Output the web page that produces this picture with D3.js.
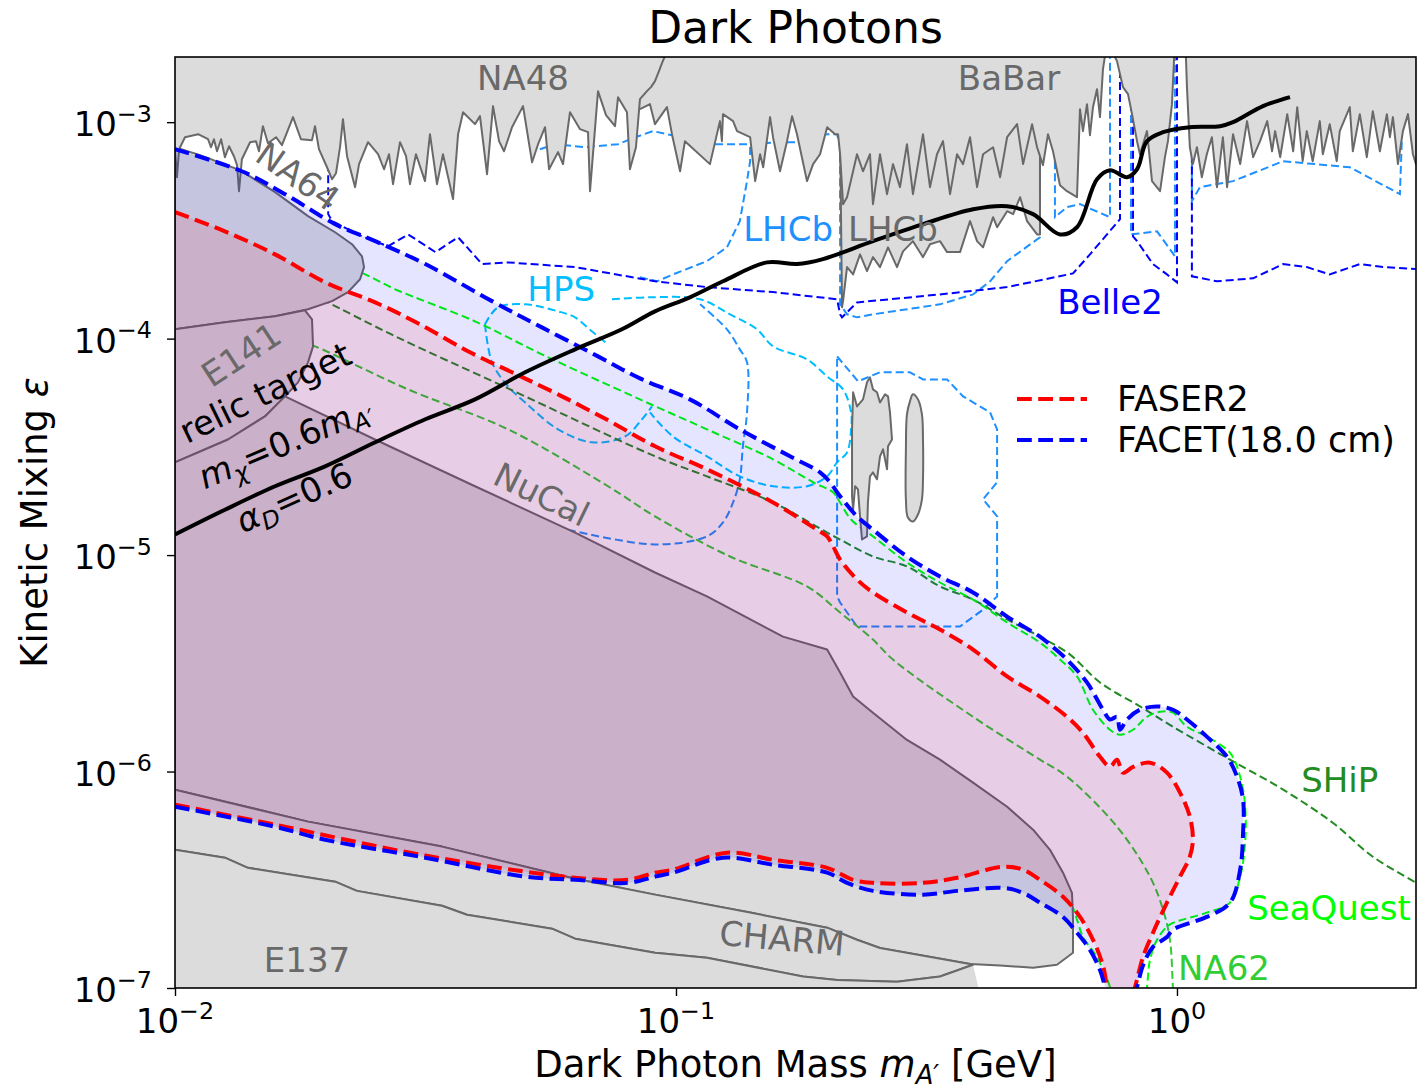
<!DOCTYPE html>
<html>
<head>
<meta charset="utf-8">
<script src="https://cdn.jsdelivr.net/npm/d3@7"></script>
<style>
  body { margin: 0; background: #fff; }
  svg { display: block; font-family: "DejaVu Sans", "Liberation Sans", sans-serif; }
</style>
</head>
<body>
<svg id="chart" width="1417" height="1090"></svg>
<script>
// ---------------------------------------------------------------
// Dark photon parameter space: mass m_A' [GeV] vs kinetic mixing eps
// Every array below holds [mass, epsilon] pairs.
// ---------------------------------------------------------------

// Existing constraints (grey)
const na48Edge = [[0.0100,7.5e-4],[0.01009,5.57e-4],[0.01019,7.5e-4],[0.01047,8.52e-4],[0.01112,8.80e-4],[0.01164,8.34e-4],[0.01180,7.66e-4],[0.01196,8.34e-4],[0.01213,7.34e-4],[0.01236,8.34e-4],[0.01258,6.89e-4],[0.01282,7.74e-4],[0.01311,6.96e-4],[0.01330,6.33e-4],[0.01342,4.80e-4],[0.01360,6.74e-4],[0.01412,8.08e-4],[0.01451,8.17e-4],[0.01471,7.34e-4],[0.01498,9.58e-4],[0.01533,7.99e-4],[0.01591,8.52e-4],[0.01635,7.83e-4],[0.01720,1.055e-3],[0.01784,8.34e-4],[0.01877,8.26e-4],[0.01903,9.58e-4],[0.01938,7.50e-4],[0.02011,6.19e-4],[0.02058,5.45e-4],[0.02096,5.81e-4],[0.02135,7.66e-4],[0.02164,1.032e-3],[0.02205,6.96e-4],[0.02288,5.01e-4],[0.02330,6.40e-4],[0.02428,8.08e-4],[0.02543,7.11e-4],[0.02614,6.06e-4],[0.02674,7.11e-4],[0.02724,5.17e-4],[0.02813,8.08e-4],[0.02892,6.96e-4],[0.02945,5.17e-4],[0.03027,7.11e-4],[0.03155,5.34e-4],[0.03228,8.80e-4],[0.03334,5.17e-4],[0.03427,7.11e-4],[0.03589,4.41e-4],[0.03673,8.80e-4],[0.03758,1.112e-3],[0.03970,9.79e-4],[0.04062,1.066e-3],[0.04196,5.75e-4],[0.04313,1.186e-3],[0.04434,8.17e-4],[0.04537,7.34e-4],[0.04707,9.48e-4],[0.04951,1.186e-3],[0.05161,6.53e-4],[0.05305,7.91e-4],[0.05478,9.48e-4],[0.05580,6.06e-4],[0.05815,7.27e-4],[0.05950,6.40e-4],[0.06144,1.112e-3],[0.06434,9.28e-4],[0.06675,8.99e-4],[0.06736,4.80e-4],[0.06988,1.391e-3],[0.07250,1.077e-3],[0.07556,9.58e-4],[0.07662,1.305e-3],[0.07982,1.112e-3],[0.08093,6.06e-4],[0.08320,7.66e-4],[0.08474,1.277e-3],[0.08750,1.391e-3],[0.08913,1.452e-3],[0.09080,1.547e-3],[0.09248,1.721e-3],[0.09377,1.874e-3],[0.09506,2.02e-3],[0.09638,2.29e-3]];

const babarEdge = [[0.08474,1.148e-3],[0.08873,1.211e-3],[0.0908,9.79e-4],[0.09594,1.173e-3],[0.09817,8.80e-4],[0.1019,5.93e-4],[0.1042,8.17e-4],[0.1169,6.40e-4],[0.1224,1.011e-3],[0.1235,8.17e-4],[0.1241,1.089e-3],[0.1300,1.011e-3],[0.1324,9.09e-4],[0.1406,8.52e-4],[0.1439,5.34e-4],[0.1472,7.11e-4],[0.1493,6.19e-4],[0.1541,1.055e-3],[0.1562,8.52e-4],[0.1613,5.93e-4],[0.1666,8.17e-4],[0.1705,1.066e-3],[0.1744,8.80e-4],[0.1826,5.34e-4],[0.1878,6.40e-4],[0.1939,7.11e-4],[0.2003,9.48e-4],[0.2078,8.80e-4],[0.2106,8.80e-4],[0.2126,7.11e-4],[0.2155,4.18e-4],[0.2195,4.50e-4],[0.2298,7.11e-4],[0.2362,5.93e-4],[0.2439,7.11e-4],[0.2473,4.18e-4],[0.2554,7.11e-4],[0.2638,4.65e-4],[0.2711,6.40e-4],[0.2800,5.01e-4],[0.2891,7.91e-4],[0.2972,4.65e-4],[0.3112,8.80e-4],[0.3214,5.01e-4],[0.3319,7.11e-4],[0.3412,8.17e-4],[0.3524,4.65e-4],[0.3639,7.11e-4],[0.3741,6.40e-4],[0.3863,8.52e-4],[0.3990,5.01e-4],[0.4101,7.11e-4],[0.4295,7.66e-4],[0.4436,5.57e-4],[0.4581,8.52e-4],[0.4796,9.79e-4],[0.4930,6.40e-4],[0.5138,9.79e-4],[0.5257,7.66e-4],[0.5402,6.33e-4],[0.5528,8.80e-4],[0.5656,7.34e-4],[0.5841,5.11e-4],[0.6032,4.80e-4],[0.6316,4.50e-4],[0.6403,1.148e-3],[0.6492,9.09e-4],[0.6613,1.211e-3],[0.6704,8.71e-4],[0.6798,1.173e-3],[0.6924,1.42e-3],[0.7020,1.055e-3],[0.7117,1.758e-3],[0.7217,2.175e-3],[0.7250,3e-3],[0.7487,3e-3],[0.7521,2.00e-3],[0.7591,1.914e-3],[0.7803,1.452e-3],[0.7985,1.347e-3],[0.8134,1.089e-3],[0.8323,8.17e-4],[0.8437,7.11e-4],[0.8713,9.09e-4],[0.8916,5.34e-4],[0.9251,4.80e-4],[0.9462,6.89e-4],[0.9594,8.17e-4],[0.9772,1.211e-3],[0.9863,1.914e-3],[0.9954,3e-3],[1.037,3e-3],[1.042,2.00e-3],[1.047,1.452e-3],[1.061,7.66e-4],[1.076,6.40e-4],[1.096,7.66e-4],[1.121,5.57e-4],[1.147,7.11e-4],[1.174,8.52e-4],[1.202,5.01e-4],[1.219,6.60e-4],[1.235,8.52e-4],[1.259,5.01e-4],[1.294,8.80e-4],[1.337,6.40e-4],[1.380,1.011e-3],[1.419,6.89e-4],[1.465,8.17e-4],[1.514,1.011e-3],[1.548,7.34e-4],[1.570,9.09e-4],[1.607,6.89e-4],[1.660,1.089e-3],[1.706,7.34e-4],[1.738,1.173e-3],[1.782,6.60e-4],[1.816,9.09e-4],[1.866,6.60e-4],[1.928,1.011e-3],[1.955,7.11e-4],[2.018,9.79e-4],[2.084,6.60e-4],[2.113,9.09e-4],[2.213,1.173e-3],[2.244,7.34e-4],[2.317,1.089e-3],[2.393,6.89e-4],[2.460,1.124e-3],[2.541,7.34e-4],[2.624,1.089e-3],[2.661,8.52e-4],[2.698,1.055e-3],[2.761,6.40e-4],[2.825,9.09e-4],[2.891,1.089e-3],[2.958,7.11e-4],[3.00,6.40e-4],[3.055,8.34e-4]];

const lhcbExcl = [[0.2126,3e-3],[0.2126,8.8e-4],[0.2145,1.395e-4],[0.2155,1.49e-4],[0.2195,2.14e-4],[0.2257,1.98e-4],[0.2330,2.45e-4],[0.2406,2.05e-4],[0.2473,2.38e-4],[0.2554,2.14e-4],[0.2650,2.64e-4],[0.2762,2.14e-4],[0.2839,2.53e-4],[0.2972,2.82e-4],[0.3112,2.38e-4],[0.3214,2.73e-4],[0.3365,2.82e-4],[0.3476,2.51e-4],[0.3690,2.51e-4],[0.3863,3.49e-4],[0.3990,2.82e-4],[0.4101,2.64e-4],[0.4295,3.64e-4],[0.4375,3.27e-4],[0.4581,3.88e-4],[0.4709,3.76e-4],[0.4863,4.50e-4],[0.5021,3.49e-4],[0.5257,3.03e-4],[0.5328,3.03e-4],[0.5328,3e-3]];

const na64Region = [[0.0100,7.66e-4],[0.01122,7.04e-4],[0.01348,6.00e-4],[0.01584,4.75e-4],[0.01843,3.68e-4],[0.02087,3.10e-4],[0.02256,2.73e-4],[0.02362,2.40e-4],[0.02384,2.14e-4],[0.02341,1.88e-4],[0.02215,1.64e-4],[0.02058,1.49e-4],[0.01843,1.366e-4],[0.01584,1.268e-4],[0.01258,1.19e-4],[0.0100,1.104e-4]];

const e141Region = [[0.0100,1.104e-4],[0.01258,1.19e-4],[0.01584,1.268e-4],[0.01817,1.351e-4],[0.01877,1.228e-4],[0.01886,9.21e-5],[0.01843,7.77e-5],[0.01760,6.28e-5],[0.01658,5.41e-5],[0.01512,4.37e-5],[0.01276,3.42e-5],[0.0100,2.68e-5]];

const nucalRegion = [[0.0100,2.68e-5],[0.01276,3.42e-5],[0.01512,4.37e-5],[0.01658,5.41e-5],[0.02507,3.42e-5],[0.03970,2.08e-5],[0.06288,1.27e-5],[0.0908,8.31e-6],[0.1153,6.44e-6],[0.1635,4.20e-6],[0.2003,3.66e-6],[0.2126,2.87e-6],[0.2257,2.22e-6],[0.2473,1.87e-6],[0.2891,1.40e-6],[0.3365,1.135e-6],[0.3917,8.89e-7],[0.4581,6.88e-7],[0.5162,5.39e-7],[0.5579,4.35e-7],[0.5923,3.41e-7],[0.6172,2.75e-7],[0.6201,2.13e-7],[0.6201,1.455e-7],[0.5761,1.28e-7],[0.5162,1.24e-7],[0.4436,1.27e-7],[0.3863,1.29e-7],[0.2554,1.53e-7],[0.2298,1.67e-7],[0.2003,1.90e-7],[0.1406,2.23e-7],[0.0908,2.70e-7],[0.06288,3.20e-7],[0.03411,4.50e-7],[0.01843,5.87e-7],[0.0100,8.25e-7]];

const charmRegion = [[0.0100,8.25e-7],[0.01843,5.87e-7],[0.03411,4.50e-7],[0.06288,3.20e-7],[0.0908,2.70e-7],[0.1406,2.23e-7],[0.2003,1.90e-7],[0.2298,1.67e-7],[0.2554,1.53e-7],[0.3863,1.29e-7],[0.3917,1.28e-7],[0.3365,1.13e-7],[0.2762,1.07e-7],[0.2097,1.09e-7],[0.1793,1.13e-7],[0.1153,1.38e-7],[0.0908,1.455e-7],[0.06288,1.69e-7],[0.05656,1.88e-7],[0.03826,2.18e-7],[0.03411,2.40e-7],[0.02307,2.81e-7],[0.02088,3.10e-7],[0.01398,3.59e-7],[0.01258,4.00e-7],[0.0100,4.35e-7]];

const e137Edge = [[0.0100,4.35e-7],[0.01258,4.00e-7],[0.01398,3.59e-7],[0.02088,3.10e-7],[0.02307,2.81e-7],[0.03411,2.40e-7],[0.03826,2.18e-7],[0.05656,1.88e-7],[0.06288,1.69e-7],[0.0908,1.455e-7],[0.1153,1.38e-7],[0.1793,1.13e-7],[0.2097,1.09e-7],[0.2762,1.07e-7],[0.3365,1.13e-7],[0.3917,1.28e-7]];

const lhcbIslandA = [[0.2257,5.65e-5],[0.2298,4.86e-5],[0.2362,5.24e-5],[0.2406,6.28e-5],[0.2439,6.62e-5],[0.2473,5.83e-5],[0.2519,5.65e-5],[0.2554,5.07e-5],[0.2614,5.53e-5],[0.2650,5.41e-5],[0.2674,4.56e-5],[0.2699,3.42e-5],[0.2650,3.18e-5],[0.2638,2.49e-5],[0.2590,3.08e-5],[0.2554,2.86e-5],[0.2519,2.24e-5],[0.2473,2.41e-5],[0.2439,2.31e-5],[0.2416,1.75e-5],[0.2406,1.22e-5],[0.2351,1.18e-5],[0.2330,1.51e-5],[0.2308,2.01e-5],[0.2278,2.08e-5],[0.2257,1.62e-5],[0.2246,1.87e-5],[0.2246,3.81e-5]];
const lhcbIslandB = [[0.2972,5.53e-5],[0.3041,5.24e-5],[0.3097,4.47e-5],[0.3112,3.42e-5],[0.3112,2.24e-5],[0.3097,1.81e-5],[0.3041,1.54e-5],[0.2972,1.43e-5],[0.2904,1.49e-5],[0.2877,1.81e-5],[0.2877,3.08e-5],[0.2891,4.47e-5],[0.2931,5.13e-5]];

// Projected reaches of other experiments (thin dashed)
const hpsLower = [[0.04157,1.165e-4],[0.04293,7.77e-5],[0.04621,6.02e-5],[0.0500,5.07e-5],[0.05815,3.81e-5],[0.06792,3.32e-5],[0.07910,3.53e-5],[0.08553,4.24e-5],[0.08955,4.86e-5]];
const hpsUpper = [[0.04157,1.165e-4],[0.04413,1.395e-4],[0.0500,1.44e-4],[0.05815,1.337e-4],[0.06288,1.254e-4],[0.06792,1.081e-4],[0.07316,9.41e-5]];
const hpsOuter = [[0.07451,1.52e-4],[0.08873,1.552e-4],[0.1117,1.52e-4],[0.1282,1.295e-4],[0.1451,1.104e-4],[0.1562,9.21e-5],[0.1826,8.02e-5],[0.2003,6.69e-5],[0.2155,5.83e-5],[0.2236,4.56e-5],[0.2236,3.81e-5],[0.2195,2.98e-5],[0.2097,2.68e-5],[0.2003,2.31e-5],[0.1826,2.08e-5],[0.1562,2.08e-5],[0.1341,2.31e-5],[0.1153,2.86e-5],[0.09863,3.53e-5],[0.08873,4.56e-5]];

const lhcbLow = [[0.06085,1.31e-5],[0.0908,1.12e-5],[0.1153,1.22e-5],[0.1241,1.415e-5],[0.1300,1.75e-5],[0.1341,2.24e-5],[0.1360,3.18e-5],[0.1386,4.56e-5],[0.1386,7.77e-5],[0.1341,8.92e-5],[0.1264,1.104e-4],[0.1117,1.44e-4]];
const lhcbPromptA = [[0.08474,1.92e-4],[0.09165,1.84e-4],[0.09863,1.98e-4],[0.1153,2.28e-4],[0.1264,2.64e-4],[0.1341,3.49e-4],[0.1386,5.34e-4],[0.1406,6.60e-4],[0.1406,7.91e-4]];
const lhcbPromptB = [[0.05351,7.50e-4],[0.0574,7.91e-4],[0.0658,7.66e-4],[0.07662,7.91e-4],[0.0829,8.52e-4],[0.0900,9.09e-4],[0.09594,8.80e-4],[0.1186,7.91e-4],[0.1406,7.91e-4],[0.1613,8.08e-4],[0.1826,8.08e-4],[0.2003,8.80e-4],[0.2097,8.80e-4],[0.2126,7.66e-4],[0.2126,1.44e-4],[0.2195,1.295e-4],[0.2298,1.254e-4],[0.2473,1.295e-4],[0.3365,1.44e-4],[0.3917,1.60e-4],[0.4236,1.84e-4],[0.4581,2.28e-4],[0.5328,2.94e-4],[0.5328,7.50e-4]];
const lhcbPromptC = [[0.5707,7.50e-4],[0.5707,3.64e-4],[0.6032,4.05e-4],[0.6403,4.18e-4],[0.7351,3.64e-4],[0.7351,3e-3]];
const lhcbPromptD = [[0.8095,3e-3],[0.8095,3.03e-4],[0.9124,3.13e-4],[0.9908,2.40e-4],[0.9908,3e-3]];
const lhcbPromptE = [[1.071,7.50e-4],[1.071,4.31e-4],[1.111,5.01e-4],[1.294,5.34e-4],[1.629,6.60e-4],[2.213,6.19e-4],[2.786,4.65e-4],[2.812,8.52e-4],[2.812,1.277e-3]];
const lhcbDisplaced = [[0.2097,8.28e-5],[0.2309,6.35e-5],[0.2554,6.99e-5],[0.2931,6.99e-5],[0.3112,6.48e-5],[0.3476,6.48e-5],[0.3741,5.41e-5],[0.4236,4.56e-5],[0.4375,3.81e-5],[0.4375,2.17e-5],[0.4101,1.81e-5],[0.4375,1.51e-5],[0.4375,6.44e-6],[0.4101,5.60e-6],[0.3690,4.68e-6],[0.2891,4.68e-6],[0.2298,4.68e-6],[0.2126,6.04e-6],[0.2097,6.44e-6],[0.2097,8.28e-5]];

const belle2Curve = [[0.02022,8.34e-4],[0.02022,3.76e-4],[0.02058,3.49e-4],[0.02362,2.97e-4],[0.02661,2.67e-4],[0.02920,3.03e-4],[0.03310,2.51e-4],[0.03673,2.94e-4],[0.04101,2.21e-4],[0.04621,2.25e-4],[0.06288,2.14e-4],[0.0908,1.84e-4],[0.1153,1.73e-4],[0.1562,1.64e-4],[0.2097,1.52e-4],[0.2126,1.295e-4],[0.2145,1.254e-4],[0.2298,1.47e-4],[0.3365,1.60e-4],[0.4581,1.73e-4],[0.6201,2.00e-4],[0.6704,2.45e-4],[0.7250,3.03e-4],[0.7696,3.56e-4],[0.7696,3e-3],[0.8171,3e-3],[0.8171,2.97e-4],[0.8323,2.82e-4],[0.8957,2.21e-4],[0.9550,1.98e-4],[1.0,1.82e-4],[1.0,3e-3],[1.071,3e-3],[1.071,1.94e-4],[1.202,1.84e-4],[1.419,1.90e-4],[1.629,2.21e-4],[1.816,2.14e-4],[2.018,1.98e-4],[2.317,2.21e-4],[2.577,2.14e-4],[3.055,2.09e-4]];

const shipCurve = [[0.01777,1.69e-4],[0.01994,1.49e-4],[0.02752,1.025e-4],[0.04621,5.89e-5],[0.0908,2.86e-5],[0.1153,2.31e-5],[0.1562,1.75e-5],[0.2003,1.27e-5],[0.2126,1.18e-5],[0.2473,9.85e-6],[0.2891,8.86e-6],[0.3365,7.16e-6],[0.3917,6.23e-6],[0.4581,5.04e-6],[0.5328,4.20e-6],[0.6116,3.47e-6],[0.7020,2.58e-6],[0.8437,2.00e-6],[0.9817,1.61e-6],[1.276,1.135e-6],[1.629,8.25e-7],[2.046,5.80e-7],[2.460,4.04e-7],[3.055,3.00e-7]];

const seaquestCurve = [[0.02135,2.21e-4],[0.02397,1.98e-4],[0.02752,1.69e-4],[0.0397,1.202e-4],[0.05398,8.46e-5],[0.08474,5.24e-5],[0.1153,3.81e-5],[0.1562,2.77e-5],[0.1878,2.17e-5],[0.2058,1.95e-5],[0.2126,1.75e-5],[0.2236,1.46e-5],[0.2473,1.22e-5],[0.2891,9.24e-6],[0.3365,7.47e-6],[0.3917,6.23e-6],[0.4581,4.88e-6],[0.5328,3.94e-6],[0.5841,3.29e-6],[0.6316,2.75e-6],[0.6798,1.93e-6],[0.7351,1.56e-6],[0.7696,1.48e-6],[0.8171,1.56e-6],[0.8713,1.79e-6],[0.9251,1.89e-6],[0.9817,1.87e-6],[1.047,1.61e-6],[1.147,1.45e-6],[1.276,1.22e-6],[1.337,9.47e-7],[1.368,6.88e-7],[1.368,4.69e-7],[1.337,3.27e-7],[1.276,2.48e-7],[1.147,2.23e-7],[0.9817,2.00e-7],[0.9550,1.92e-7],[0.9124,1.67e-7],[0.8834,1.35e-7],[0.8713,1.01e-7],[0.8627,8.8e-8]];
const seaquestLower = [[0.4436,2.70e-7],[0.5841,2.56e-7],[0.6172,2.37e-7],[0.6316,2.07e-7],[0.6492,1.72e-7],[0.6924,1.39e-7],[0.7351,1.01e-7],[0.7419,8.8e-8]];

const na62Curve = [[0.01777,9.72e-5],[0.01904,9.21e-5],[0.02918,5.83e-5],[0.04621,3.81e-5],[0.07316,2.08e-5],[0.0908,1.51e-5],[0.1282,9.85e-6],[0.1826,7.16e-6],[0.2126,5.43e-6],[0.2473,4.07e-6],[0.2711,3.29e-6],[0.3917,1.79e-6],[0.5328,1.135e-6],[0.6032,9.47e-7],[0.7591,5.56e-7],[0.8834,3.27e-7],[0.9380,2.30e-7],[0.9683,1.67e-7],[0.9817,1.0e-7],[0.9863,8.8e-8]];

// FACET (18 cm) and FASER2 sensitivity contours
const facetUpper = [[0.0100,7.50e-4],[0.01360,5.93e-4],[0.01658,4.65e-4],[0.02088,3.38e-4],[0.02510,2.82e-4],[0.0316,2.21e-4],[0.04293,1.49e-4],[0.05400,1.127e-4],[0.06988,8.28e-5],[0.08474,6.55e-5],[0.1066,5.24e-5],[0.1341,3.81e-5],[0.1689,2.86e-5],[0.1939,2.41e-5],[0.2030,2.17e-5],[0.2126,1.87e-5],[0.2298,1.51e-5],[0.2473,1.31e-5],[0.2891,9.85e-6],[0.3365,7.96e-6],[0.3917,6.72e-6],[0.4581,5.20e-6],[0.5328,4.20e-6],[0.5579,3.86e-6],[0.6032,3.29e-6],[0.6613,2.58e-6],[0.7117,1.93e-6],[0.7351,1.74e-6],[0.7591,1.79e-6],[0.7696,1.56e-6],[0.7948,1.74e-6],[0.8437,1.93e-6],[0.9124,2.00e-6],[0.9817,1.93e-6],[1.047,1.74e-6],[1.147,1.45e-6],[1.259,1.17e-6],[1.318,9.47e-7],[1.355,7.42e-7],[1.355,5.22e-7],[1.337,3.52e-7],[1.276,2.48e-7],[1.147,2.13e-7],[0.9817,1.86e-7],[0.9550,1.72e-7],[0.8957,1.55e-7],[0.8554,1.27e-7],[0.8323,1.01e-7],[0.8171,8.8e-8]];
const facetLower = [[0.0100,6.88e-7],[0.01584,5.56e-7],[0.01994,4.84e-7],[0.0316,4.00e-7],[0.0500,3.27e-7],[0.06288,3.16e-7],[0.08015,3.06e-7],[0.0908,3.27e-7],[0.09863,3.41e-7],[0.1241,4.00e-7],[0.1562,3.71e-7],[0.2003,3.41e-7],[0.2195,3.06e-7],[0.2473,2.81e-7],[0.3112,2.70e-7],[0.3639,2.81e-7],[0.4498,2.90e-7],[0.4930,2.75e-7],[0.5328,2.48e-7],[0.5923,2.13e-7],[0.6316,1.80e-7],[0.6704,1.50e-7],[0.7020,1.21e-7],[0.7183,1.01e-7],[0.7284,8.8e-8]];
const faserUpper = [[0.0100,3.84e-4],[0.01258,3.13e-4],[0.01584,2.45e-4],[0.01994,1.82e-4],[0.0251,1.47e-4],[0.03083,1.165e-4],[0.03844,8.74e-5],[0.04707,6.99e-5],[0.05868,5.47e-5],[0.07384,4.15e-5],[0.0908,3.18e-5],[0.1153,2.49e-5],[0.1562,1.75e-5],[0.1912,1.31e-5],[0.2003,1.22e-5],[0.2058,1.10e-5],[0.2126,9.54e-6],[0.2298,7.71e-6],[0.2473,6.72e-6],[0.2891,5.43e-6],[0.3365,4.53e-6],[0.3917,3.66e-6],[0.4581,2.75e-6],[0.5328,2.22e-6],[0.6032,1.79e-6],[0.6492,1.51e-6],[0.7020,1.17e-6],[0.7351,1.054e-6],[0.7591,1.135e-6],[0.7803,9.88e-7],[0.8171,1.05e-6],[0.8834,1.099e-6],[0.9550,9.88e-7],[1.014,7.99e-7],[1.061,6.19e-7],[1.076,4.84e-7],[1.061,4.04e-7],[1.014,3.27e-7],[0.9550,2.48e-7],[0.8957,1.80e-7],[0.8554,1.39e-7],[0.8247,1.01e-7],[0.8097,8.8e-8]];
const faserLower = [[0.0100,7.03e-7],[0.01584,5.68e-7],[0.0316,4.09e-7],[0.06288,3.23e-7],[0.08015,3.16e-7],[0.0908,3.41e-7],[0.09863,3.52e-7],[0.1264,4.22e-7],[0.1562,3.91e-7],[0.2003,3.59e-7],[0.2257,3.16e-7],[0.2473,3.06e-7],[0.3112,3.06e-7],[0.3639,3.23e-7],[0.4498,3.63e-7],[0.4930,3.52e-7],[0.5328,3.16e-7],[0.5923,2.64e-7],[0.6403,2.13e-7],[0.6798,1.67e-7],[0.7117,1.27e-7],[0.7250,1.01e-7],[0.7351,8.8e-8]];

// Thermal relic target for m_chi = 0.6 m_A', alpha_D = 0.6
const relicTarget = [[0.0100,1.245e-5],[0.01258,1.62e-5],[0.01584,2.08e-5],[0.01994,2.57e-5],[0.0251,3.32e-5],[0.0316,4.24e-5],[0.0397,5.24e-5],[0.0500,6.99e-5],[0.06288,8.92e-5],[0.0780,1.104e-4],[0.0908,1.337e-4],[0.1066,1.552e-4],[0.1241,1.84e-4],[0.1519,2.25e-4],[0.1744,2.21e-4],[0.1965,2.33e-4],[0.2473,2.82e-4],[0.3112,3.38e-4],[0.3917,3.96e-4],[0.4581,4.09e-4],[0.5162,3.76e-4],[0.5841,3.03e-4],[0.6316,3.27e-4],[0.6924,5.45e-4],[0.7351,6.00e-4],[0.7948,5.57e-4],[0.8323,6.06e-4],[0.8713,8.17e-4],[0.9380,8.99e-4],[1.061,9.48e-4],[1.219,9.58e-4],[1.294,1.0e-3],[1.485,1.186e-3],[1.681,1.305e-3]];

// Axis ticks
const xMajorTicks = [0.01, 0.1, 1];
const xTickExp = ["−2", "−1", "0"];
const yMajorTicks = [1e-7, 1e-6, 1e-5, 1e-4, 1e-3];
const yTickExp = ["−7", "−6", "−5", "−4", "−3"];

// Legend entries
const legendNames = ["FASER2", "FACET(18.0 cm)"];
const legendColors = ["red", "blue"];

// ---------------------------------------------------------------
const M = { left: 175, right: 1416, top: 57, bottom: 988 };
const CEIL = 1e-2, FLOOR = 5e-8;
const x = d3.scaleLog().domain([0.01, 3]).range([M.left, M.right]);
const y = d3.scaleLog().domain([1e-7, 2e-3]).range([M.bottom, M.top]);

const GREY_FILL = "#dcdcdc", GREY_EDGE = "#696969";
const svg = d3.select("#chart");
svg.append("defs").append("clipPath").attr("id", "plotArea")
  .append("rect").attr("x", M.left).attr("y", M.top)
  .attr("width", M.right - M.left).attr("height", M.bottom - M.top);
const plot = svg.append("g").attr("clip-path", "url(#plotArea)");

const straight = d3.line().x(d => x(d[0])).y(d => y(d[1]));
const smooth = d3.line().x(d => x(d[0])).y(d => y(d[1])).curve(d3.curveCatmullRom.alpha(0.5));
const smoothClosed = d3.line().x(d => x(d[0])).y(d => y(d[1])).curve(d3.curveCatmullRomClosed.alpha(0.5));

function thinDashed(data, color, gen = straight) {
  plot.append("path").attr("d", gen(data)).attr("fill", "none")
    .attr("stroke", color).attr("stroke-width", 2).attr("stroke-dasharray", "8,4");
}

// 1) other experiments' projected reaches (sit beneath the excluded regions)
thinDashed(hpsLower, "#00bfff", smooth);
thinDashed(hpsUpper, "#00bfff", smooth);
thinDashed(hpsOuter, "#00bfff", smooth);
thinDashed(lhcbLow, "#1e90ff", smooth);
thinDashed(lhcbPromptA, "#1e90ff");
thinDashed(lhcbPromptB, "#1e90ff");
thinDashed(lhcbPromptC, "#1e90ff");
thinDashed(lhcbPromptD, "#1e90ff");
thinDashed(lhcbPromptE, "#1e90ff");
thinDashed(lhcbDisplaced, "#1e90ff");
thinDashed(belle2Curve, "#0000ff");
thinDashed(na62Curve, "#32cd32", smooth);
thinDashed(shipCurve, "#228b22", smooth);
thinDashed(seaquestCurve, "#00ff00", smooth);
thinDashed(seaquestLower, "#00ff00", smooth);

// 2) excluded regions
function capAbove(edge) {
  return [...edge, [edge[edge.length - 1][0], CEIL], [edge[0][0], CEIL]];
}
function capBelow(edge) {
  return [...edge, [edge[edge.length - 1][0] * 1.1, FLOOR], [edge[0][0], FLOOR]];
}
function greyOpen(poly, edge) {
  plot.append("path").attr("d", straight(poly) + "Z").attr("fill", GREY_FILL).attr("stroke", "none");
  plot.append("path").attr("d", straight(edge)).attr("fill", "none")
    .attr("stroke", GREY_EDGE).attr("stroke-width", 2).attr("stroke-linejoin", "round");
}
function greyClosed(poly, gen = straight) {
  plot.append("path").attr("d", gen === straight ? gen(poly) + "Z" : gen(poly))
    .attr("fill", GREY_FILL).attr("stroke", GREY_EDGE).attr("stroke-width", 2)
    .attr("stroke-linejoin", "round");
}
greyOpen(lhcbExcl, lhcbExcl);
greyOpen(capAbove(babarEdge), babarEdge);
greyClosed(na64Region);
greyOpen(capAbove(na48Edge), na48Edge);
greyClosed(e141Region);
greyClosed(nucalRegion);
greyClosed(charmRegion);
greyOpen(capBelow(e137Edge), e137Edge);
greyClosed(lhcbIslandA);
greyClosed(lhcbIslandB, smoothClosed);

// 3) FACET and FASER2 sensitivity regions
const facetPoly = [...facetUpper, ...facetLower.slice().reverse()];
const faserPoly = [...faserUpper, ...faserLower.slice().reverse()];
plot.append("path").attr("d", smooth(facetPoly) + "Z").attr("fill", "blue").attr("fill-opacity", 0.1);
plot.append("path").attr("d", smooth(faserPoly) + "Z").attr("fill", "red").attr("fill-opacity", 0.1);

function thickDashed(data, color) {
  plot.append("path").attr("d", smooth(data)).attr("fill", "none")
    .attr("stroke", color).attr("stroke-width", 4).attr("stroke-dasharray", "14.8,6.4");
}
thickDashed(faserUpper, "red");
thickDashed(faserLower, "red");
thickDashed(facetUpper, "blue");
thickDashed(facetLower, "blue");

// 4) relic target line
plot.append("path").attr("d", smooth(relicTarget)).attr("fill", "none")
  .attr("stroke", "black").attr("stroke-width", 4).attr("stroke-linejoin", "round");

// ---------------------------------------------------------------
// Text helpers: mathtext-like runs with sub/superscripts
function rich(sel, parts, fs) {
  let shift = 0;
  parts.forEach(p => {
    const ts = sel.append("tspan").text(p.t);
    const target = p.sub ? fs * 0.2 : p.sup ? -fs * 0.42 : 0;
    if (target !== shift) ts.attr("dy", target - shift);
    shift = target;
    if (p.sub || p.sup) ts.attr("font-size", fs * 0.7);
    if (p.it) ts.attr("font-style", "italic");
  });
}

const annotations = [
  { parts: [{ t: "NA48" }], m: 0.0495, e: 1.406e-3, rot: 0, color: GREY_EDGE, base: true },
  { parts: [{ t: "BaBar" }], m: 0.4621, e: 1.406e-3, rot: 0, color: GREY_EDGE, base: true },
  { parts: [{ t: "LHCb" }], m: 0.1674, e: 2.82e-4, rot: 0, color: "#1e90ff", base: true },
  { parts: [{ t: "LHCb" }], m: 0.2711, e: 2.82e-4, rot: 0, color: GREY_EDGE, base: true },
  { parts: [{ t: "HPS" }], m: 0.0590, e: 1.49e-4, rot: 0, color: "#00bfff", base: true },
  { parts: [{ t: "Belle2" }], m: 0.7351, e: 1.295e-4, rot: 0, color: "#0000ff", base: true },
  { parts: [{ t: "SHiP" }], m: 2.113, e: 8.07e-7, rot: 0, color: "#228b22", base: true },
  { parts: [{ t: "SeaQuest" }], m: 2.011, e: 2.07e-7, rot: 0, color: "#00ff00", base: true },
  { parts: [{ t: "NA62" }], m: 1.241, e: 1.09e-7, rot: 0, color: "#32cd32", base: true },
  { parts: [{ t: "E137" }], m: 0.01834, e: 1.18e-7, rot: 0, color: GREY_EDGE, base: true },
  { parts: [{ t: "CHARM" }], m: 0.1628, e: 1.70e-7, rot: 5, color: GREY_EDGE },
  { parts: [{ t: "NuCal" }], m: 0.05398, e: 1.91e-5, rot: 26, color: GREY_EDGE },
  { parts: [{ t: "E141" }], m: 0.01354, e: 8.46e-5, rot: -33, color: GREY_EDGE },
  { parts: [{ t: "NA64" }], m: 0.01760, e: 5.63e-4, rot: 35, color: GREY_EDGE },
  { parts: [{ t: "relic target" }], m: 0.01513, e: 5.65e-5, rot: -26, color: "black" },
  { parts: [{ t: "m", it: true }, { t: "χ", it: true, sub: true }, { t: "=0.6" }, { t: "m", it: true }, { t: "A′", it: true, sub: true }],
    m: 0.01658, e: 3.32e-5, rot: -23, color: "black" },
  { parts: [{ t: "α", it: true }, { t: "D", it: true, sub: true }, { t: "=0.6" }], m: 0.01728, e: 1.85e-5, rot: -24, color: "black" }
];
const LABEL_FS = 34;
annotations.forEach(a => {
  const t = svg.append("text")
    .attr("transform", `translate(${x(a.m)},${y(a.e)}) rotate(${a.rot})`)
    .attr("text-anchor", "middle")
    .attr("font-size", LABEL_FS).attr("fill", a.color);
  if (!a.base) t.attr("dy", "0.36em");
  rich(t, a.parts, LABEL_FS);
});

// Legend
const LEG_GAP = 41, LEG_FS = 35;
const legend = svg.append("g").attr("transform", "translate(1017,399)");
legendNames.forEach((name, i) => {
  legend.append("line").attr("x1", 0).attr("x2", 70).attr("y1", i * LEG_GAP).attr("y2", i * LEG_GAP)
    .attr("stroke", legendColors[i]).attr("stroke-width", 4).attr("stroke-dasharray", "14.8,6.4");
  legend.append("text").attr("x", 100).attr("y", i * LEG_GAP + 12).attr("font-size", LEG_FS)
    .attr("fill", "black").text(name);
});

// ---------------------------------------------------------------
// Axes
const TICK_FS = 34;
const xMinor = [];
const yMinor = [];
for (let d = -2; d <= 0; d++) for (let k = 2; k <= 9; k++) { const v = k * 10 ** d; if (v <= 3) xMinor.push(v); }
for (let d = -7; d <= -3; d++) for (let k = 2; k <= 9; k++) { const v = k * 10 ** d; if (v <= 2e-3) yMinor.push(v); }

const xAxisG = svg.append("g").attr("transform", `translate(0,${M.bottom})`);
xAxisG.call(d3.axisBottom(x).tickValues(xMinor).tickSize(4.5).tickFormat(""));
xAxisG.call(d3.axisBottom(x).tickValues(xMajorTicks).tickSize(8).tickFormat(""));
const yAxisG = svg.append("g").attr("transform", `translate(${M.left},0)`);
yAxisG.call(d3.axisLeft(y).tickValues(yMinor).tickSize(4.5).tickFormat(""));
yAxisG.call(d3.axisLeft(y).tickValues(yMajorTicks).tickSize(8).tickFormat(""));
svg.selectAll(".domain").remove();
svg.selectAll(".tick line").attr("stroke", "black").attr("stroke-width", 1.4);

xMajorTicks.forEach((v, i) => {
  const t = svg.append("text").attr("x", x(v)).attr("y", 1033)
    .attr("text-anchor", "middle").attr("font-size", TICK_FS);
  rich(t, [{ t: "10" }, { t: xTickExp[i], sup: true }], TICK_FS);
});
yMajorTicks.forEach((v, i) => {
  const t = svg.append("text").attr("x", 152).attr("y", y(v) + 14)
    .attr("text-anchor", "end").attr("font-size", TICK_FS);
  rich(t, [{ t: "10" }, { t: yTickExp[i], sup: true }], TICK_FS);
});

// frame
svg.append("rect").attr("x", M.left).attr("y", M.top)
  .attr("width", M.right - M.left).attr("height", M.bottom - M.top)
  .attr("fill", "none").attr("stroke", "black").attr("stroke-width", 1.6);

// axis titles
const xl = svg.append("text").attr("x", (M.left + M.right) / 2).attr("y", 1077)
  .attr("text-anchor", "middle").attr("font-size", 37);
rich(xl, [{ t: "Dark Photon Mass " }, { t: "m", it: true }, { t: "A′", it: true, sub: true }, { t: " [GeV]" }], 37);

const yl = svg.append("text")
  .attr("transform", `translate(47,${(M.top + M.bottom) / 2}) rotate(-90)`)
  .attr("text-anchor", "middle").attr("font-size", 37);
rich(yl, [{ t: "Kinetic Mixing " }, { t: "ε", it: true }], 37);

svg.append("text").attr("x", (M.left + M.right) / 2).attr("y", 43)
  .attr("text-anchor", "middle").attr("font-size", 44).text("Dark Photons");
</script>
</body>
</html>
